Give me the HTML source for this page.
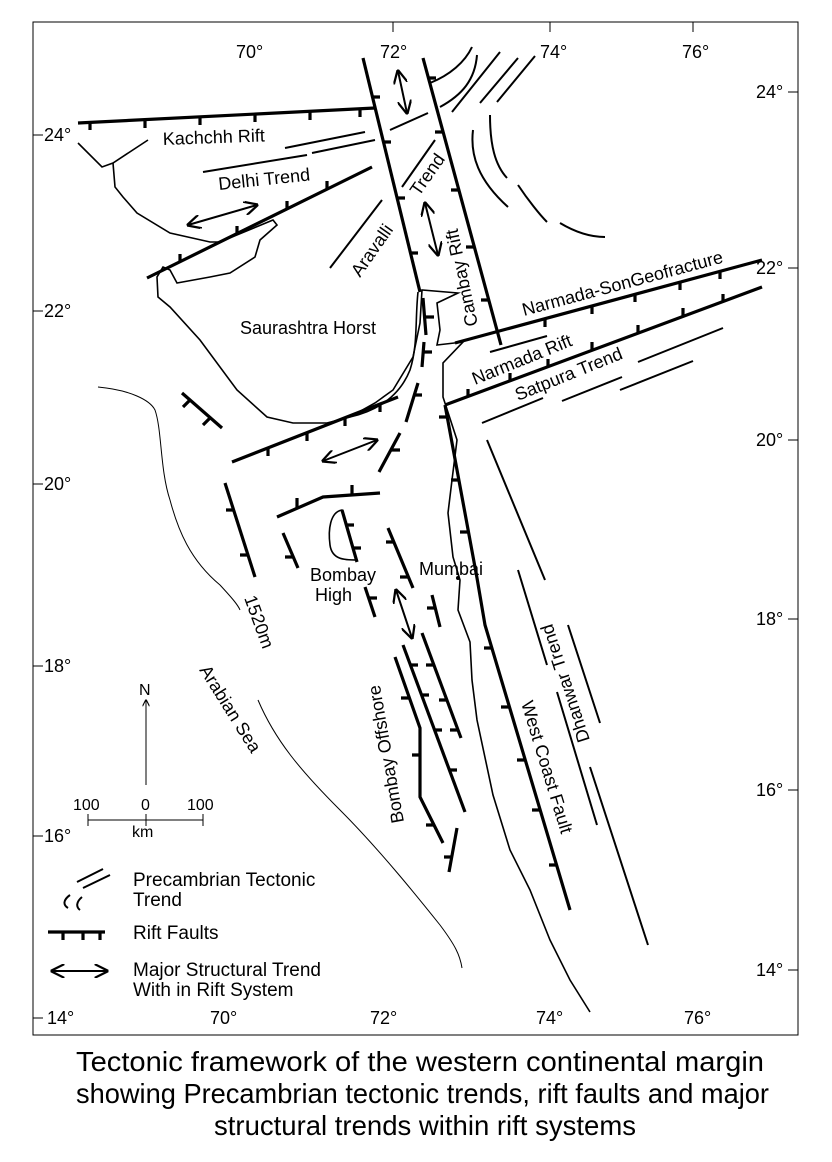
<!DOCTYPE html>
<html><head><style>
body{margin:0;background:#fff;width:832px;height:1162px;overflow:hidden}
svg{display:block}
text{font-family:"Liberation Sans",sans-serif;fill:#000}
.r{stroke:#000;stroke-width:3.2;fill:none}
.t{stroke:#000;stroke-width:2;fill:none}
.n{stroke:#000;stroke-width:1;fill:none}
.c{stroke:#000;stroke-width:1.6;fill:none}
</style></head><body>
<svg width="832" height="1162" viewBox="0 0 832 1162">
<defs>
<marker id="a" viewBox="0 0 10 10" refX="9" refY="5" markerWidth="7" markerHeight="7" orient="auto-start-reverse"><path d="M0,0 L10,5 L0,10" fill="none" stroke="#000" stroke-width="1.6"/></marker>
</defs>
<rect x="33" y="22" width="765" height="1013" fill="none" stroke="#000" stroke-width="1"/>
<g class="n">
<line x1="393" y1="22" x2="393" y2="32"/><line x1="550" y1="22" x2="550" y2="32"/><line x1="693" y1="22" x2="693" y2="32"/>
<line x1="33" y1="135" x2="43" y2="135"/><line x1="33" y1="311" x2="43" y2="311"/><line x1="33" y1="484" x2="43" y2="484"/><line x1="33" y1="666" x2="43" y2="666"/><line x1="33" y1="836" x2="43" y2="836"/><line x1="33" y1="1018" x2="43" y2="1018"/>
<line x1="788" y1="92" x2="798" y2="92"/><line x1="788" y1="268" x2="798" y2="268"/><line x1="788" y1="440" x2="798" y2="440"/><line x1="788" y1="619" x2="798" y2="619"/><line x1="788" y1="790" x2="798" y2="790"/><line x1="788" y1="970" x2="798" y2="970"/>
</g>
<g font-size="18">
<text x="236" y="58">70°</text><text x="380" y="58">72°</text><text x="540" y="58">74°</text><text x="682" y="58">76°</text>
<text x="44" y="141">24°</text><text x="44" y="317">22°</text><text x="44" y="490">20°</text><text x="44" y="672">18°</text><text x="44" y="842">16°</text>
<text x="756" y="98">24°</text><text x="756" y="274">22°</text><text x="756" y="446">20°</text><text x="756" y="625">18°</text><text x="756" y="796">16°</text><text x="756" y="976">14°</text>
<text x="47" y="1024">14°</text><text x="210" y="1024">70°</text><text x="370" y="1024">72°</text><text x="536" y="1024">74°</text><text x="684" y="1024">76°</text>
</g>
<path class="c" d="M78,143 L102,167 L113,163 L148,140"/>
<path class="c" d="M113,163 L115,187 L123,197 L137,213 L170,233 L210,242 L220,242 L273,220 L277,225 L260,240 L255,257 L230,273 L210,277 L177,283 L170,270 L163,267 L157,277 L158,297 L170,307 L200,340 L237,390 L267,417 L293,423 L327,423 L350,417 L375,403 L393,390 L413,357 L420,323 L422,290 L458,293 L437,303 L440,330 L437,345 L463,342 L443,363 L443,397 L457,440 L452,480 L448,513 L453,557 L460,580 L458,610 L470,642 L472,680 L477,720 L493,795 L510,850 L530,890 L550,940 L570,980 L590,1012"/>
<path class="c" d="M418,292 C415,320 418,345 410,370 C400,395 380,410 350,417"/>
<path class="c" d="M342,510 C330,512 328,530 330,545 C332,560 345,560 357,560 C352,545 348,525 342,510Z"/>
<path class="n" d="M98,387 C130,390 150,400 155,410 C162,430 160,470 170,500 C178,530 190,560 220,585 C232,598 238,605 240,610 M258,700 C275,740 300,770 340,810 C380,850 420,900 440,925 C455,945 460,955 462,968"/>
<g class="r">
<line x1="78" y1="123" x2="375" y2="108"/>
<line x1="363" y1="58" x2="420" y2="292"/>
<line x1="423" y1="58" x2="501" y2="345"/>
<line x1="147" y1="278" x2="372" y2="167"/>
<line x1="455" y1="343" x2="762" y2="260"/>
<line x1="445" y1="405" x2="762" y2="287"/>
<line x1="232" y1="462" x2="398" y2="397"/>
<line x1="182" y1="393" x2="222" y2="428"/>
<polyline points="277,517 323,497 380,493"/>
<line x1="225" y1="483" x2="255" y2="577"/>
<line x1="283" y1="533" x2="298" y2="568"/>
<line x1="342" y1="510" x2="357" y2="562"/>
<line x1="388" y1="528" x2="413" y2="588"/>
<line x1="365" y1="587" x2="375" y2="617"/>
<line x1="432" y1="595" x2="440" y2="627"/>
<line x1="422" y1="633" x2="461" y2="738"/>
<line x1="403" y1="645" x2="465" y2="812"/>
<polyline points="395,657 420,728 420,797 443,843"/>
<line x1="457" y1="828" x2="449" y2="872"/>
<polyline points="445,405 477,578 485,625 570,910"/>
<path d="M423,298 L426,335 M424,342 L422,367 M418,383 L406,422 M400,433 L379,472"/>
<path d="M90,122v8M145,120v8M200,117v8M255,114v8M310,112v8M360,109v8
M372,97h8M383,142h8M397,198h8M410,253h8
M428,78h8M443,132h-8M459,190h-8M474,247h-8M489,300h-8
M180,262v-8M237,234v-8M287,209v-8M327,189v-8
M545,319v8M592,306v8M635,294v8M680,282v8M720,271v8
M468,397v-8M510,381v-8M548,367v-8M592,350v-8M638,333v-8M683,316v-8M723,302v-8
M268,448v8M307,433v8M345,418v8M380,404v8
M190,400l-7,7M210,418l-7,7
M297,508v-10M352,495v-10
M234,510h-8M248,555h-8
M293,557h-8
M346,525h8M353,548h8
M394,542h-8M408,577h-8
M369,598h8
M435,608h-8
M434,665h-8M447,700h-8M458,730h-8
M410,665h8M421,695h8M434,730h8M449,770h8
M409,698h-8M420,755h-8M434,825h-8
M452,857h-8
M447,417h-8M459,480h-8M468,532h-8M492,648h-8M509,707h-8M525,760h-8M540,810h-8M557,865h-8
M425,317h9M423,352h9M414,395h8M391,450h9"/>
</g>
<g class="t">
<line x1="203" y1="172" x2="307" y2="155"/>
<line x1="312" y1="153" x2="375" y2="140"/>
<line x1="285" y1="148" x2="365" y2="132"/>
<line x1="390" y1="130" x2="428" y2="113"/>
<line x1="330" y1="268" x2="382" y2="200"/>
<line x1="402" y1="187" x2="435" y2="140"/>
<line x1="490" y1="352" x2="547" y2="336"/>
<line x1="482" y1="423" x2="543" y2="398"/>
<line x1="562" y1="401" x2="622" y2="377"/>
<line x1="620" y1="390" x2="693" y2="361"/>
<line x1="638" y1="362" x2="723" y2="328"/>
<path d="M430,83 C450,75 465,62 472,47 M440,107 C462,95 475,80 477,55 M452,112 L500,52 M480,103 L518,58 M497,102 L535,56"/>
<path d="M473,130 C470,155 478,180 508,207 M490,115 C490,145 495,165 507,178 M518,185 C528,200 540,215 547,222 M560,223 C575,232 590,237 605,237"/>
<line x1="487" y1="440" x2="545" y2="580"/>
<line x1="518" y1="570" x2="547" y2="665"/>
<line x1="568" y1="625" x2="600" y2="723"/>
<line x1="557" y1="692" x2="597" y2="825"/>
<line x1="590" y1="767" x2="648" y2="945"/>
</g>
<g class="t" marker-start="url(#a)" marker-end="url(#a)">
<line x1="398" y1="71" x2="407" y2="113"/>
<line x1="425" y1="203" x2="438" y2="255"/>
<line x1="188" y1="225" x2="257" y2="205"/>
<line x1="323" y1="461" x2="377" y2="440"/>
<line x1="396" y1="590" x2="412" y2="638"/>
</g>
<g font-size="18">
<text x="163" y="145" transform="rotate(-2 163 145)">Kachchh Rift</text>
<text x="219" y="190" transform="rotate(-6 219 190)">Delhi Trend</text>
<text x="360" y="278" transform="rotate(-55 360 278)">Aravalli</text>
<text x="419" y="197" transform="rotate(-55 419 197)">Trend</text>
<text x="478" y="325" transform="rotate(-102 478 325)">Cambay Rift</text>
<text x="240" y="334">Saurashtra Horst</text>
<text x="524" y="316" transform="rotate(-15 524 316)">Narmada-SonGeofracture</text>
<text x="475" y="385" transform="rotate(-22 475 385)">Narmada Rift</text>
<text x="518" y="401" transform="rotate(-22 518 401)">Satpura Trend</text>
<text x="310" y="581">Bombay</text><text x="315" y="601">High</text>
<text x="419" y="575">Mumbai</text>
<text x="244" y="598" transform="rotate(70 244 598)">1520m</text>
<text x="199" y="670" transform="rotate(58 199 670)">Arabian Sea</text>
<text x="404" y="822" transform="rotate(-100 404 822)">Bombay Offshore</text>
<text x="521" y="703" transform="rotate(73 521 703)">West Coast Fault</text>
<text x="590" y="740" transform="rotate(-108 590 740)">Dhanwar Trend</text>
</g>
<circle cx="458" cy="578" r="2" fill="#000"/>
<line x1="146" y1="785" x2="146" y2="700" class="n" marker-end="url(#a)"/>
<text x="139" y="695" font-size="16">N</text>
<path class="n" d="M88,820 H203 M88,814 V826 M146,814 V826 M203,814 V826"/>
<g font-size="16"><text x="73" y="810">100</text><text x="141" y="810">0</text><text x="187" y="810">100</text><text x="132" y="837">km</text></g>
<g class="t"><path d="M77,882 L103,869 M83,888 L110,875 M70,895 C63,900 63,905 68,908 M82,897 C76,902 76,907 80,910"/></g>
<g font-size="19">
<text x="133" y="886">Precambrian Tectonic</text>
<text x="133" y="906">Trend</text>
<text x="133" y="939">Rift Faults</text>
<text x="133" y="976">Major Structural Trend</text>
<text x="133" y="996">With in Rift System</text>
</g>
<line class="r" x1="48" y1="932" x2="105" y2="932"/>
<path class="r" d="M63,932v8M83,932v8M100,932v8"/>
<line class="t" x1="52" y1="971" x2="107" y2="971" marker-start="url(#a)" marker-end="url(#a)"/>
<g font-size="28">
<text x="76" y="1071" textLength="688" lengthAdjust="spacingAndGlyphs">Tectonic framework of the western continental margin</text>
<text x="76" y="1103" textLength="693" lengthAdjust="spacingAndGlyphs">showing Precambrian tectonic trends, rift faults and major</text>
<text x="214" y="1135" textLength="422" lengthAdjust="spacingAndGlyphs">structural trends within rift systems</text>
</g>
</svg>
</body></html>
